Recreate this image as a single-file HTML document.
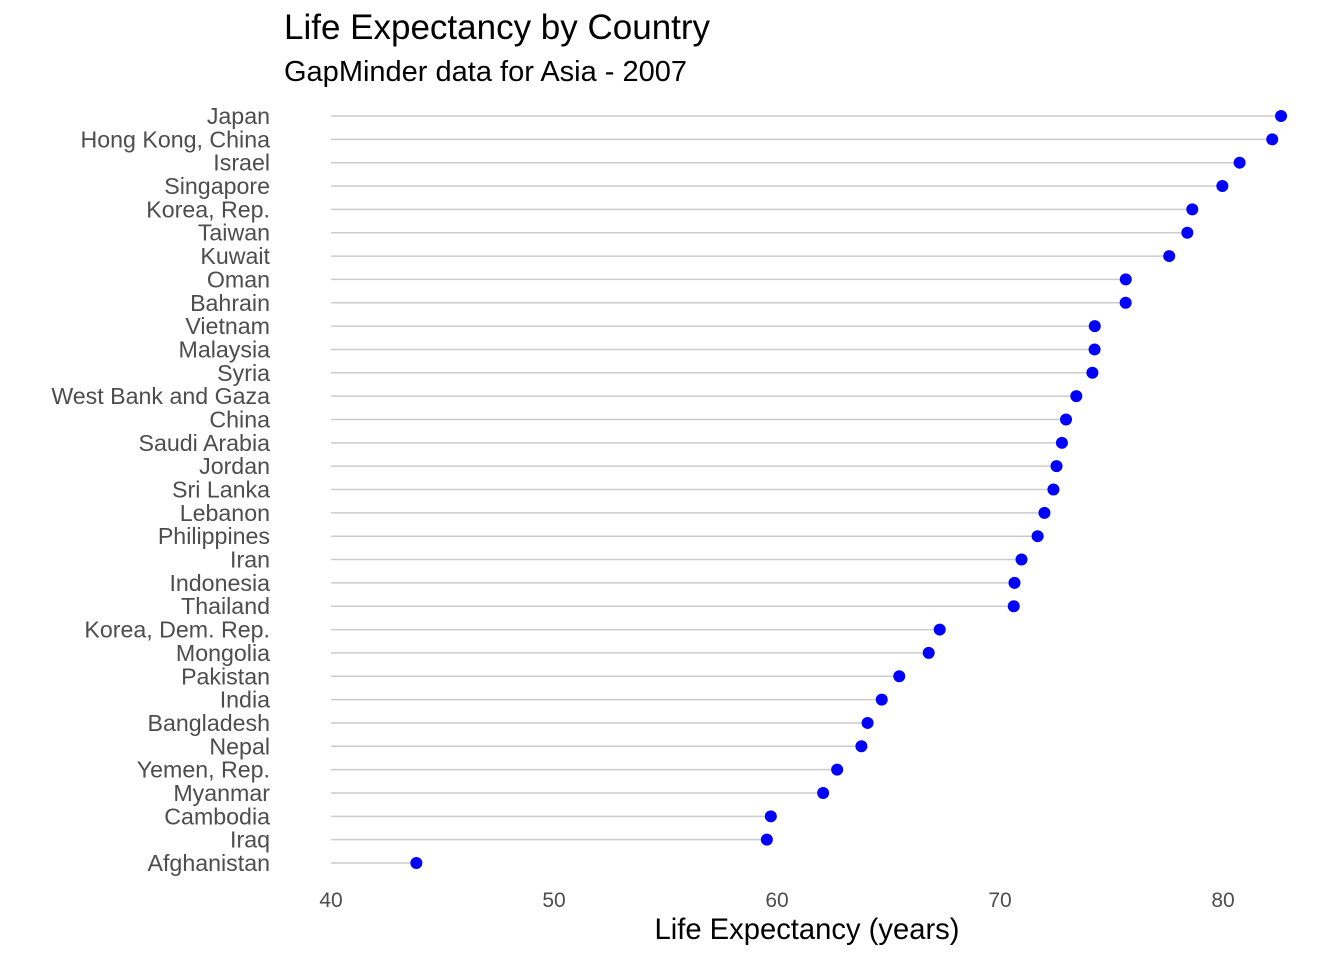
<!DOCTYPE html>
<html><head><meta charset="utf-8"><style>
html,body{margin:0;padding:0;background:#fff;}
svg text{font-family:"Liberation Sans",sans-serif;}
</style></head><body>
<svg id="chart" width="1344" height="960" viewBox="0 0 1344 960">
<text x="284" y="39" font-size="35" fill="#000">Life Expectancy by Country</text>
<text x="284" y="81" font-size="29" fill="#000">GapMinder data for Asia - 2007</text>
<text x="807" y="939" font-size="29.2" fill="#000" text-anchor="middle">Life Expectancy (years)</text>
<g id="marks"></g>
</svg>
<script>
const countries=["Japan","Hong Kong, China","Israel","Singapore","Korea, Rep.","Taiwan","Kuwait","Oman","Bahrain","Vietnam","Malaysia","Syria","West Bank and Gaza","China","Saudi Arabia","Jordan","Sri Lanka","Lebanon","Philippines","Iran","Indonesia","Thailand","Korea, Dem. Rep.","Mongolia","Pakistan","India","Bangladesh","Nepal","Yemen, Rep.","Myanmar","Cambodia","Iraq","Afghanistan"];
const lifeExp=[82.603,82.208,80.745,79.972,78.623,78.4,77.588,75.64,75.635,74.249,74.241,74.143,73.422,72.961,72.777,72.535,72.396,71.993,71.688,70.964,70.65,70.616,67.297,66.803,65.483,64.698,64.062,63.785,62.698,62.069,59.723,59.545,43.828];
const xTicks=[40,50,60,70,80];
const NS="http://www.w3.org/2000/svg";
const g=document.getElementById("marks");
function xs(v){return 331+(v-40)*22.3;}
function ys(i){return 116+i*(863-116)/(countries.length-1);}
function mk(t,a){const e=document.createElementNS(NS,t);for(const k in a)e.setAttribute(k,a[k]);g.appendChild(e);return e;}
xTicks.forEach(t=>{
  const e=mk("text",{x:xs(t),y:907,"font-size":21,fill:"#4d4d4d","text-anchor":"middle"});
  e.textContent=t;
  
  
});
countries.forEach((c,i)=>{
  const y=ys(i);
  const l=mk("text",{x:270,y:y+8,"font-size":23.2,fill:"#4d4d4d","text-anchor":"end"});
  l.textContent=c;
  
  
  const s=mk("line",{x1:xs(40),x2:xs(lifeExp[i]),y1:y,y2:y,stroke:"#cccccc","stroke-width":1.5});
  
  
  const p=mk("circle",{cx:xs(lifeExp[i]),cy:y,r:6,fill:"#0000ff"});
  
  
});
</script>
</body></html>
